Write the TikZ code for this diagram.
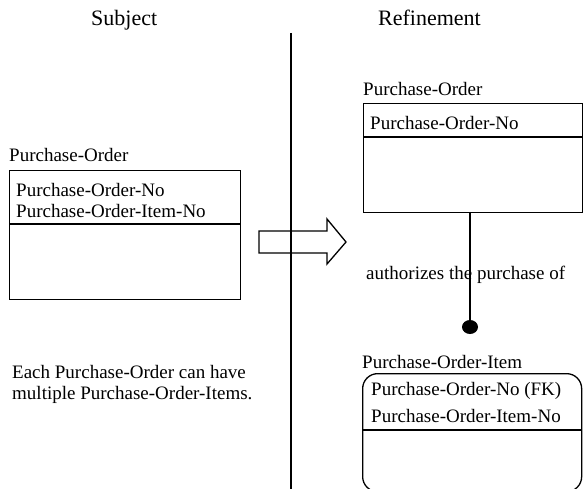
\documentclass[tikz,border=0pt]{standalone}
\usepackage{fontspec}
\setmainfont{Liberation Serif}
\begin{document}
\begin{tikzpicture}[x=1bp,y={(0bp,-1bp)},
  lbl/.style={inner sep=0pt,anchor=base west,font=\fontsize{19bp}{21bp}\selectfont},
  head/.style={inner sep=0pt,anchor=base west,font=\fontsize{22bp}{24bp}\selectfont},
  ent/.style={draw,line width=1.3bp,inner sep=0pt,anchor=north west},
  ln/.style={line width=1.3bp}]
\useasboundingbox (0,0) rectangle (584,489);
\clip (0,0) rectangle (584,489);
% headings
\node[head] (subj) at (91,26) {Subject};
\node[head] (refi) at (378,26) {Refinement};
% divider
\coordinate (vtop) at (291,33);
\coordinate (vbot) at (291,495);
\draw[ln] (vtop) -- (vbot);
% left entity
\node[lbl] (t1) at (9,162) {Purchase-Order};
\node[ent,minimum width=231bp,minimum height=129bp] (po1) at (9,170) {};
\coordinate (d1l) at (9,224); \coordinate (d1r) at (240,224);
\draw[ln] (d1l) -- (d1r);
\node[lbl] (a1) at (16,197) {Purchase-Order-No};
\node[lbl] (a2) at (16,218) {Purchase-Order-Item-No};
% note
\node[lbl] (n1) at (12,378) {Each Purchase-Order can have};
\node[lbl] (n2) at (12,399) {multiple Purchase-Order-Items.};
% block arrow
\draw[ln] (259,231) -- (327,231) -- (327,219) -- (346,242) -- (327,264) -- (327,253) -- (259,253) -- cycle;
% right top entity
\node[lbl] (t2) at (363,96) {Purchase-Order};
\node[ent,minimum width=219bp,minimum height=109bp] (po2) at (363,103) {};
\coordinate (d2l) at (363,137); \coordinate (d2r) at (582,137);
\draw[ln] (d2l) -- (d2r);
\node[lbl] (b1) at (370,130) {Purchase-Order-No};
% relationship
\coordinate (rtop) at (470,212);
\coordinate (rdot) at (470,327);
\draw[ln] (rtop) -- (rdot);
\fill (rdot) ellipse [x radius=8bp,y radius=7bp];
\node[lbl] (rel) at (366,279) {authorizes the purchase of};
% right bottom entity
\node[lbl] (t3) at (362,368) {Purchase-Order-Item};
\node[ent,rounded corners=15bp,minimum width=219bp,minimum height=118bp] (poi) at (362,373) {};
\coordinate (d3l) at (362,430); \coordinate (d3r) at (581,430);
\draw[ln] (d3l) -- (d3r);
\node[lbl] (c1) at (371,395) {Purchase-Order-No (FK)};
\node[lbl] (c2) at (371,422) {Purchase-Order-Item-No};
\end{tikzpicture}
\end{document}
